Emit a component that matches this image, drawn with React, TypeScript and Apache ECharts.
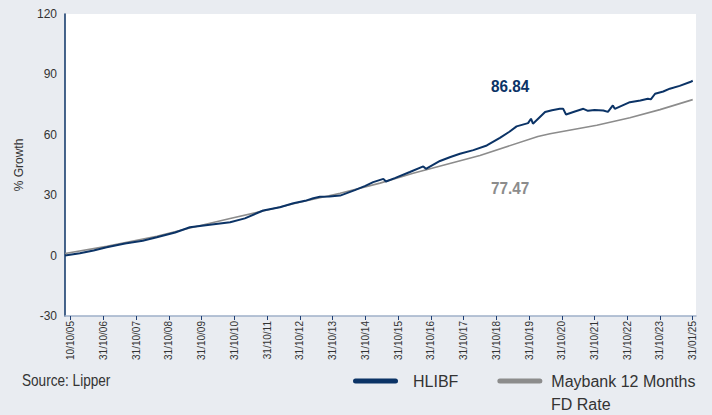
import React, { useEffect, useRef } from "react";
import * as echarts from "echarts";

const tickLabels = [
  "10/10/05", "31/10/06", "31/10/07", "31/10/08", "31/10/09", "31/10/10",
  "31/10/11", "31/10/12", "31/10/13", "31/10/14", "31/10/15", "31/10/16",
  "31/10/17", "31/10/18", "31/10/19", "31/10/20", "31/10/21", "31/10/22",
  "31/10/23", "31/01/25",
];

// positions along the (evenly spaced) date axis, in tick units
const hlibfPos = [
  -0.174, 0.28, 0.7, 1.1, 1.66, 2.2, 2.63, 3.19, 3.64, 4.25, 4.87, 5.32, 5.88, 6.39,
  6.8, 7.16, 7.41, 7.61, 7.9, 8.23, 8.68, 9.0, 9.24, 9.55, 9.63, 9.9, 10.36, 10.77,
  10.85, 11.28, 11.6, 11.89, 12.3, 12.71, 13.11, 13.4, 13.62, 13.97, 14.06, 14.12, 14.49,
  14.7, 14.94, 15.04, 15.13, 15.4, 15.66, 15.8, 16.0, 16.27, 16.41, 16.56, 16.62, 17.08,
  17.4, 17.63, 17.72, 17.85, 18.1, 18.3, 18.6, 18.92, 19.0,
];
const hlibfValues = [
  0, 1.2, 2.5, 4.1, 6.0, 7.4, 9.1, 11.5, 14.1, 15.3, 16.6, 18.5, 22.4, 24.0,
  26.0, 27.2, 28.5, 29.2, 29.4, 29.8, 32.5, 34.6, 36.5, 38.1, 36.8, 38.5, 41.5, 44.3,
  43.1, 47.0, 49.0, 50.6, 52.4, 54.7, 58.5, 61.5, 64.2, 65.8, 68.0, 65.5, 71.3,
  72.2, 72.9, 73.0, 70.1, 71.6, 72.9, 71.9, 72.3, 72.1, 71.4, 74.6, 72.9, 76.2,
  77.0, 77.9, 77.6, 80.4, 81.5, 82.9, 84.3, 86.2, 86.84,
];

const fdPos = [
  -0.174, 1.1, 2.63, 3.64, 4.87, 5.88, 7.0, 8.23, 9.45, 10.46, 12.5, 14.27,
  14.64, 16.07, 17.08, 18.0, 19.0,
];
const fdValues = [
  1.0, 4.6, 9.6, 13.7, 18.4, 22.2, 26.5, 31.0, 36.0, 40.9, 49.7, 59.2,
  60.5, 64.7, 68.5, 72.5, 77.47,
];

const FONT = "'Liberation Sans', Arial, sans-serif";
const NAVY = "#0b3366";
const GREY = "#8c8c8c";
const TEXT = "#333333";

export default function App() {
  const ref = useRef<HTMLDivElement>(null);
  useEffect(() => {
    if (!ref.current) return;
    const chart = echarts.init(ref.current, null, { renderer: "svg" });
    const ticks = tickLabels.map((_, i) => i);
    chart.setOption({
      animation: false,
      backgroundColor: "#e9ecf1",
      textStyle: { fontFamily: FONT },
      grid: {
        left: 65, right: 16, top: 14, bottom: 99,
        show: true, backgroundColor: "#ffffff", borderWidth: 0,
      },
      xAxis: {
        type: "value",
        min: -0.174,
        max: 19.1,
        splitLine: { show: false },
        axisLine: { show: true, onZero: false, lineStyle: { color: "#9fb0c9", width: 1.5 } },
        axisTick: { show: true, customValues: ticks, length: 4, lineStyle: { color: "#1f3f73" } },
        axisLabel: {
          customValues: ticks,
          formatter: (v: number) => tickLabels[Math.round(v)] ?? "",
          rotate: 90,
          fontSize: 10,
          color: TEXT,
          margin: 5,
          fontFamily: FONT,
        },
      },
      yAxis: {
        type: "value",
        min: -30,
        max: 120,
        interval: 30,
        name: "% Growth",
        nameLocation: "middle",
        nameRotate: 90,
        nameGap: 40,
        nameTextStyle: { fontSize: 12, color: TEXT, fontFamily: FONT },
        splitLine: { show: false },
        axisTick: { show: false },
        axisLine: { show: true, onZero: false, lineStyle: { color: NAVY, width: 1.5 } },
        axisLabel: { fontSize: 12, color: TEXT, margin: 8, fontFamily: FONT },
      },
      legend: {
        left: 348,
        top: 368,
        itemWidth: 45,
        itemHeight: 5,
        itemGap: 39,
        icon: "path://M2.5,0 H42.5 A2.5,2.5 0 0 1 42.5,5 H2.5 A2.5,2.5 0 0 1 2.5,0 Z",
        textStyle: { fontSize: 16, color: TEXT, fontFamily: FONT, padding: [0, 0, 0, 10] },
        formatter: (name: string) => (name.startsWith("Maybank") ? "Maybank 12 Months" : name),
        data: [
          { name: "HLIBF" },
          { name: "Maybank 12 Months FD Rate", textStyle: { padding: [0, 0, 0, 4] } },
        ],
      },
      graphic: [
        { type: "text", x: 22, y: 381, scaleX: 0.85, style: { text: "Source: Lipper", font: `16px ${FONT}`, fill: TEXT, verticalAlign: "middle" } },
        { type: "text", x: 551, y: 404, style: { text: "FD Rate", font: `16px ${FONT}`, fill: TEXT, verticalAlign: "middle" } },
        { type: "text", x: 491, y: 86, scaleX: 0.9, style: { text: "86.84", font: `bold 17px ${FONT}`, fill: NAVY, verticalAlign: "middle" } },
        { type: "text", x: 491, y: 188, scaleX: 0.9, style: { text: "77.47", font: `bold 17px ${FONT}`, fill: GREY, verticalAlign: "middle" } },
      ],
      series: [
        {
          name: "Maybank 12 Months FD Rate",
          type: "line",
          showSymbol: false,
          color: GREY,
          lineStyle: { color: GREY, width: 1.6 },
          data: fdPos.map((x, i) => [x, fdValues[i]]),
          z: 2,
        },
        {
          name: "HLIBF",
          type: "line",
          showSymbol: false,
          color: NAVY,
          lineStyle: { color: NAVY, width: 2 },
          data: hlibfPos.map((x, i) => [x, hlibfValues[i]]),
          z: 3,
        },
      ],
    });
    return () => chart.dispose();
  }, []);
  return <div ref={ref} style={{ position: "fixed", left: 0, top: 0, width: 712, height: 415 }} />;
}
